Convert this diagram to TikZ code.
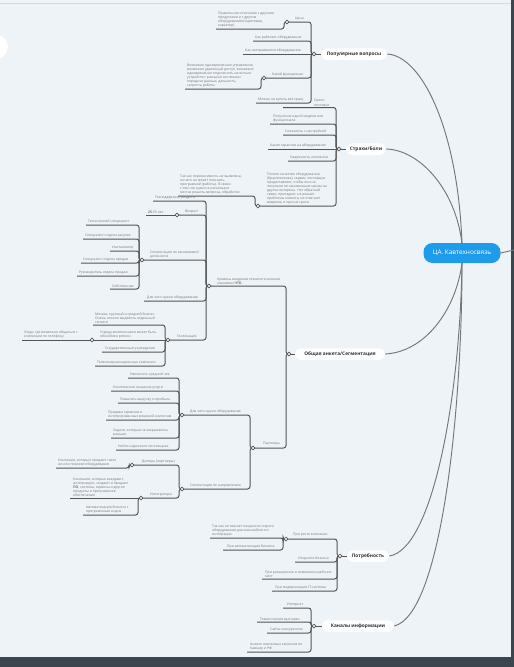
\documentclass[tikz,border=0pt]{standalone}
\usepackage{fontspec}
\setmainfont{Open Sans}
\definecolor{bg}{HTML}{EEF3F7}
\definecolor{tg}{HTML}{767676}
\definecolor{lg}{HTML}{555555}
\definecolor{mg}{HTML}{777777}
\definecolor{cb}{HTML}{1E9CEB}
\definecolor{tx}{HTML}{333333}
\definecolor{edge}{HTML}{3C444E}
\newcommand\lf[5]{%
  \node[txt] (#1) at (#2,#3-1.2) {#5};
  \coordinate (#1-u) at (#4,#3);
}
\begin{document}
\begin{tikzpicture}[x=1pt,y=-1pt,
  txt/.style={font=\fontsize{3.4}{4.1}\selectfont, text=tg, inner sep=0, align=left, anchor=south west},
  ln/.style={draw=lg, line width=1.0, rounded corners=2.5},
  mln/.style={draw=mg, line width=0.95},
  jun/.style={circle, draw=lg, fill=white, line width=0.65, minimum size=3.6, inner sep=0},
  mbox/.style={fill=white, rounded corners=5.5, font=\fontsize{4.8}{5}\selectfont\bfseries, text=tx, minimum height=11.5, inner xsep=3, inner ysep=0},
  cbox/.style={fill=cb, rounded corners=9, text=white, font=\fontsize{6.4}{7}\selectfont, minimum height=20, minimum width=77, inner sep=0}]
\useasboundingbox (0,0) rectangle (514,667);
\fill[bg] (0,0) rectangle (514,667);
\draw[draw=black!15, line width=0.8] (0,3) -- (511,3);
\fill[white] (-4,47) circle (12);
\fill[edge] (511,0) rectangle (514,667);
\fill[edge] (0,657) rectangle (514,667);

% ---------- central and main nodes
\node[cbox] (C) at (462,253) {ЦА. Кавтехносвязь};
\coordinate (Cr) at (514,250);
\draw[mln] (C.east) -- (Cr);
\node[mbox, minimum width=66] (M1) at (354,54) {Популярные вопросы};
\node[mbox, minimum width=40] (M2) at (366,149) {Страхи/Боли};
\node[mbox, minimum width=90] (M3) at (340,354) {Общая анкета/Сегментация};
\node[mbox, minimum width=42] (M4) at (368,556) {Потребность};
\node[mbox, minimum width=72] (M5) at (358,626) {Каналы информации};
\coordinate (Ct) at (462,244);
\coordinate (Cb) at (462,263);
\draw[mln] (M1.east) .. controls (422,56) and (458,130) .. (Ct);
\draw[mln] (M2.east) .. controls (420,150) and (456,190) .. (Ct);
\draw[mln] (M3.east) .. controls (425,352) and (456,310) .. (Cb);
\draw[mln] (M4.east) .. controls (432,550) and (460,400) .. (Cb);
\draw[mln] (M5.east) .. controls (440,615) and (462,420) .. (Cb);

% junctions of main nodes
\coordinate (J1) at (314,54);  \coordinate (vJ1) at (311,54);
\coordinate (J2) at (339,149); \coordinate (vJ2) at (336,149);
\coordinate (J3) at (289,354); \coordinate (vJ3) at (286,354);
\coordinate (J4) at (340,556); \coordinate (vJ4) at (337,556);
\coordinate (J5) at (314,626); \coordinate (vJ5) at (311,626);
\draw[ln] (J1) -- (M1.west);
\draw[ln] (J2) -- (M2.west);
\draw[ln] (J3) -- (M3.west);
\draw[ln] (J4) -- (M4.west);
\draw[ln] (J5) -- (M5.west);

% ---------- Популярные вопросы
\coordinate (J11) at (287,22); \coordinate (vJ11) at (284,22);
\node[txt] (n11) at (295,20.8) {Цена};
\draw[ln] (J11) -| (vJ1) -- (J1);
\lf{n111}{218}{29}{216}{Правильное сочетание с другими\\продуктами и с другим\\оборудованием (цветовая,\\характер)}
\draw[ln] (n111-u) -| (vJ11) -- (J11);
\lf{n12}{255}{41}{253}{Как работает оборудование}
\draw[ln] (n12-u) -| (vJ1) -- (J1);
\lf{n13}{245}{54}{243}{Как настраивается оборудование}
\draw[ln] (n13-u) -- (J1);
\coordinate (J14) at (264,78); \coordinate (vJ14) at (261,78);
\node[txt] (n14) at (272,76.8) {Какой функционал};
\draw[ln] (J14) -| (vJ1) -- (J1);
\lf{n141}{187}{89}{185}{Возможно одновременное управление,\\возможно удаленный доступ, возможно\\одновременно подключить несколько\\устройств с разными системами\\передачи данных, дальность,\\скорость работы}
\draw[ln] (n141-u) -| (vJ14) -- (J14);
\lf{n15}{258}{103}{256}{Можно ли купить всё сразу}
\draw[ln] (n15-u) -| (vJ1) -- (J1);

% ---------- Страхи/Боли
\lf{n21}{314}{107.5}{283}{Сроки\\поставки}
\draw[ln] (n21-u) -| (vJ2) -- (J2);
\lf{n22}{273}{124}{270}{Получение одной модели или\\функционала}
\draw[ln] (n22-u) -| (vJ2) -- (J2);
\lf{n23}{285}{135}{283}{Сложность с настройкой}
\draw[ln] (n23-u) -| (vJ2) -- (J2);
\lf{n24}{270}{149}{268}{Какие гарантии на оборудование}
\draw[ln] (n24-u) -- (J2);
\lf{n25}{290}{161}{288}{Надежность компании}
\draw[ln] (n25-u) -| (vJ2) -- (J2);
\coordinate (J26) at (258,206); \coordinate (vJ26) at (255,206);
\node[txt] (n26) at (267,204.8) {Плохое качество оборудования\\(брак/поломка), сервис, поставщик\\предоставляет, чтобы они не\\покупали по заниженным ценам на\\другие интересы. Нет обратной\\связи, пропадает, не решает\\проблемы клиента, не отвечает\\вовремя, и прочие сроки};
\draw[ln] (J26) -| (vJ2) -- (J2);
\lf{n261}{180}{196}{178}{Так как переносимость не выявлена,\\ничего не может пояснить\\программой (работы). В связи\\с тем что нужно в нескольких\\местах решить вопросы, обработки}
\draw[ln] (n261-u) -| (vJ26) -- (J26);

% ---------- Общая анкета/Сегментация
\coordinate (J31) at (209,286); \coordinate (vJ31) at (206,286);
\node[txt] (n31) at (217,284.8) {Уровень владения технологическими\\знаниями \textbf{ЧТО}};
\draw[ln] (J31) -| (vJ3) -- (J3);
\lf{n311}{155}{201}{153}{Техподдержка продукта}
\draw[ln] (n311-u) -| (vJ31) -- (J31);
\coordinate (J312) at (177,215); \coordinate (vJ312) at (174,215);
\node[txt] (n312) at (185,213.8) {Возраст};
\draw[ln] (J312) -| (vJ31) -- (J31);
\lf{n3121}{148}{215}{146}{\textbf{25}-55 лет}
\draw[ln] (n3121-u) -- (J312);
\coordinate (J313) at (142,260); \coordinate (vJ313) at (139,260);
\node[txt] (n313) at (150,258.8) {Сегментация по занимаемой\\должности};
\draw[ln] (J313) -| (vJ31) -- (J31);
\lf{n3131}{88}{225}{86}{Технический специалист}
\lf{n3132}{85}{239}{83}{Специалист отдела закупок}
\lf{n3133}{112}{251}{110}{Инсталлятор}
\lf{n3134}{83}{263}{81}{Специалист отдела продаж}
\lf{n3135}{79}{276}{77}{Руководитель отдела продаж}
\lf{n3136}{112}{289}{110}{Собственник}
\foreach \k in {n3131,n3132,n3133,n3134,n3135,n3136}
  \draw[ln] (\k-u) -| (vJ313) -- (J313);
\lf{n314}{147}{301}{144}{Для чего нужно оборудование}
\draw[ln] (n314-u) -| (vJ31) -- (J31);
\coordinate (J315) at (168,340); \coordinate (vJ315) at (165,340);
\node[txt] (n315) at (177,338.8) {Геолокация};
\draw[ln] (J315) -| (vJ31) -- (J31);
\lf{n3151}{95}{325}{93}{Москва, крупный и средний бизнес.\\Очень сложно выделить отдельный\\сегмент}
\draw[ln] (n3151-u) -| (vJ315) -- (J315);
\coordinate (J3152) at (92,340); \coordinate (vJ3152) at (89,340);
\node[txt] (n3152) at (100,338.8) {Города-миллионники может быть\\обособлен регион};
\draw[ln] (J3152) -- (J315);
\lf{n31521}{24}{340}{22}{Люди, где возможно общаться с\\клиентами по телефону}
\draw[ln] (n31521-u) -- (J3152);
\lf{n3153}{105}{352}{102}{Государственные учреждения}
\draw[ln] (n3153-u) -| (vJ315) -- (J315);
\lf{n3154}{97}{366}{95}{Телекоммуникационные компании}
\draw[ln] (n3154-u) -| (vJ315) -- (J315);

\coordinate (J32) at (253,448); \coordinate (vJ32) at (250,448);
\node[txt] (n32) at (263,445.8) {Партнеры};
\draw[ln] (J32) -| (vJ3) -- (J3);
\coordinate (J321) at (182,415); \coordinate (vJ321) at (179,415);
\node[txt] (n321) at (190,413.8) {Для чего нужно оборудование};
\draw[ln] (J321) -| (vJ32) -- (J32);
\lf{n3211}{130}{378}{128}{Увеличить средний чек}
\lf{n3212}{113}{391}{111}{Комплексное оказание услуги}
\lf{n3213}{120}{403}{118}{Повысить выручку и прибыль}
\lf{n3214}{108}{420}{106}{Продажа сервисов и\\интегрированных решений клиентам}
\lf{n3215}{113}{438}{111}{Задачи, которые не закрывались\\раньше}
\lf{n3216}{118}{450}{116}{Найти надежного поставщика}
\foreach \k in {n3211,n3212,n3213,n3214,n3215,n3216}
  \draw[ln] (\k-u) -| (vJ321) -- (J321);
\coordinate (J322) at (182,489); \coordinate (vJ322) at (179,489);
\node[txt] (n322) at (190,487.8) {Сегментация по направлению};
\draw[ln] (J322) -| (vJ32) -- (J32);
\coordinate (J3221) at (132,465); \coordinate (vJ3221) at (129,465);
\node[txt] (n3221) at (142,463.8) {Дилеры (партнеры)};
\draw[ln] (J3221) -| (vJ322) -- (J322);
\lf{n32211}{58}{468}{56}{Компании, которые продают такое\\же или похожее оборудование}
\draw[ln] (n32211-u) -| (vJ3221) -- (J3221);
\coordinate (J3222) at (141,498); \coordinate (vJ3222) at (138,498);
\node[txt] (n3222) at (150,496.8) {Интеграторы};
\draw[ln] (J3222) -| (vJ322) -- (J322);
\lf{n32221}{73}{498}{70}{Компании, которые внедряют,\\интегрируют, создают и продают\\\textbf{ПО}, системы, сервисы и другие\\продукты и программное\\обеспечение}
\draw[ln] (n32221-u) -- (J3222);
\lf{n32222}{86}{515}{83}{Автоматизация бизнеса с\\программным кодом}
\draw[ln] (n32222-u) -| (vJ3222) -- (J3222);

% ---------- Потребность
\coordinate (J41) at (286,539); \coordinate (vJ41) at (283,539);
\node[txt] (n41) at (293,536.8) {При росте компании};
\draw[ln] (J41) -| (vJ4) -- (J4);
\lf{n411}{212}{538}{210}{Так как не хватает мощности старого\\оборудования для масштабного и\\интеграции}
\draw[ln] (n411-u) -| (vJ41) -- (J41);
\lf{n412}{227}{550}{223}{При автоматизации бизнеса}
\draw[ln] (n412-u) -| (vJ41) -- (J41);
\lf{n42}{298}{562}{295}{Открытие бизнеса}
\draw[ln] (n42-u) -| (vJ4) -- (J4);
\lf{n43}{265}{579}{262}{При расширении и изменении рабочих\\мест}
\draw[ln] (n43-u) -| (vJ4) -- (J4);
\lf{n44}{275}{591}{272}{При модернизации IT-системы}
\draw[ln] (n44-u) -| (vJ4) -- (J4);

% ---------- Каналы информации
\lf{n51}{287}{608}{283}{Интернет}
\lf{n52}{260}{622}{257}{Тематические выставки}
\lf{n53}{270}{633}{267}{Сайты конкурентов}
\lf{n54}{250}{652}{247}{Анализ поисковых запросов по\\Кавказу и РФ}
\foreach \k in {n51,n52,n53,n54}
  \draw[ln] (\k-u) -| (vJ5) -- (J5);

% ---------- junction circles
\foreach \j in {J1,J2,J3,J4,J5,J11,J14,J26,J31,J312,J313,J315,J3152,J32,J321,J322,J3221,J3222,J41}
  \node[jun] (c\j) at (\j) {};
\end{tikzpicture}
\end{document}
